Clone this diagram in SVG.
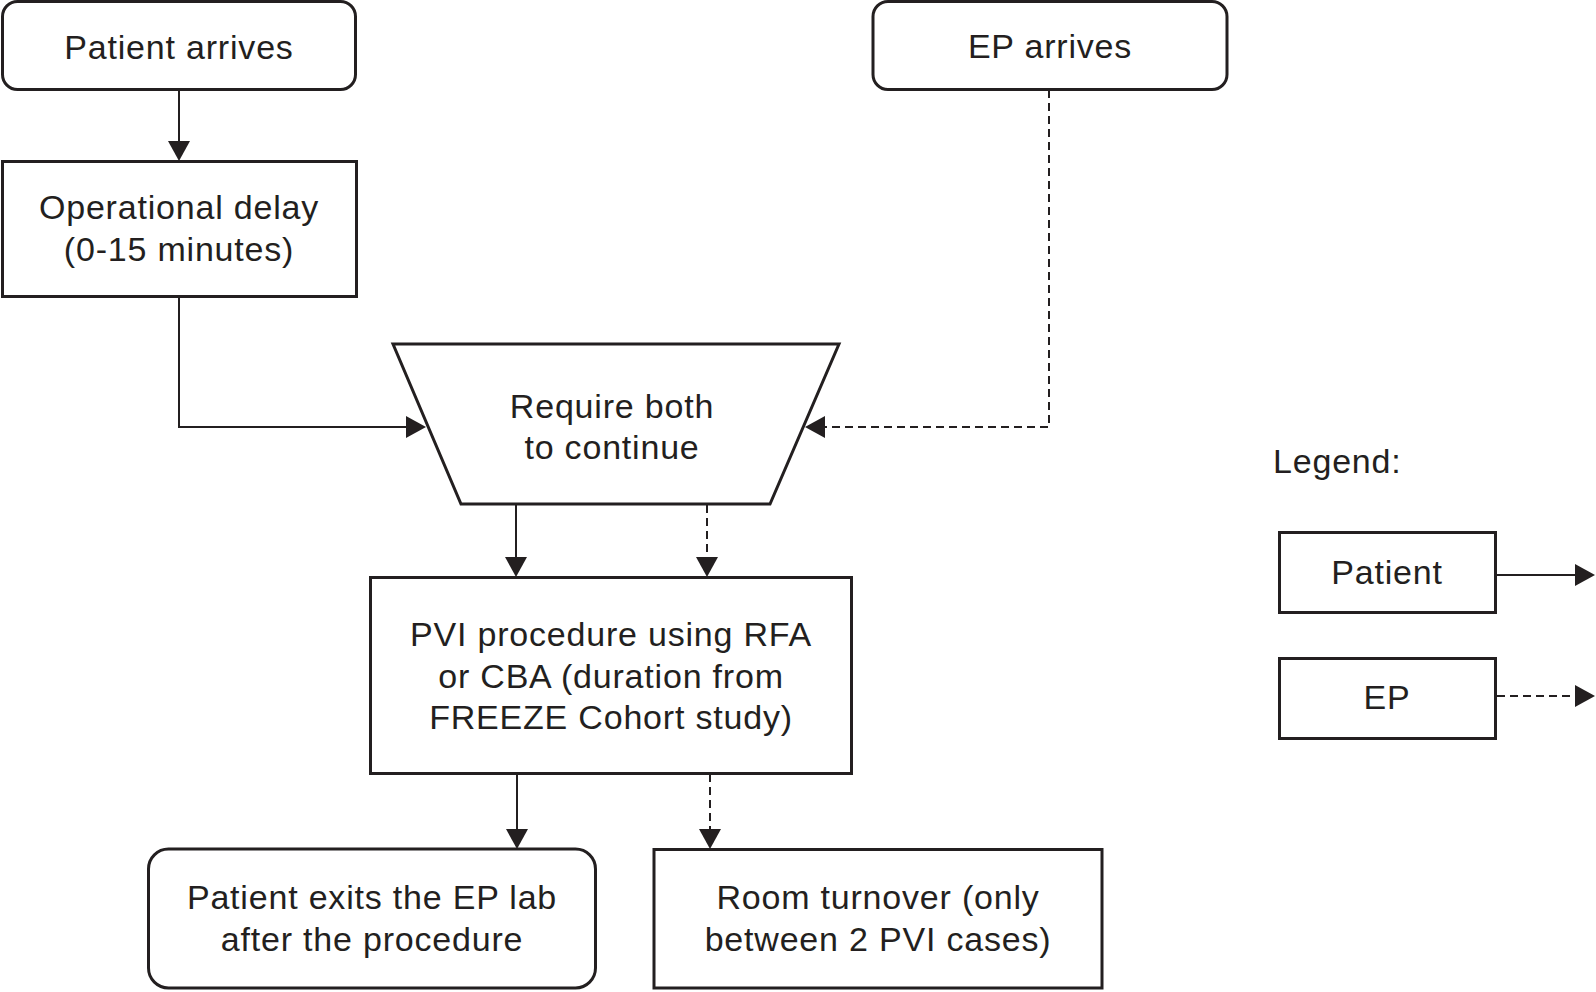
<svg xmlns="http://www.w3.org/2000/svg" width="1596" height="992" viewBox="0 0 1596 992">
<style>
  .box { fill: #ffffff; stroke: #231f20; stroke-width: 3; }
  .t { font-family: "Liberation Sans", Arial, sans-serif; font-size: 34px; fill: #231f20; text-anchor: middle; letter-spacing: 0.8px; }
  .c { fill: none; stroke: #231f20; stroke-width: 2; }
  .d { stroke-dasharray: 8 5; }
</style>
<defs>
  <marker id="ah" viewBox="0 0 20 22" refX="18" refY="11" markerWidth="20" markerHeight="22" markerUnits="userSpaceOnUse" orient="auto">
    <path d="M0,0 L20,11 L0,22 Z" fill="#231f20"/>
  </marker>
</defs>
<rect width="1596" height="992" fill="#ffffff"/>

<g id="connectors">
  <path class="c" d="M179,90 V159" marker-end="url(#ah)"/>
  <path class="c" d="M179,297 V427 H424" marker-end="url(#ah)"/>
  <path class="c d" d="M1049,90 V427 H807" marker-end="url(#ah)"/>
  <path class="c" d="M516,505 V575" marker-end="url(#ah)"/>
  <path class="c d" d="M707,505 V575" marker-end="url(#ah)"/>
  <path class="c" d="M517,774 V847" marker-end="url(#ah)"/>
  <path class="c d" d="M710,774 V847" marker-end="url(#ah)"/>
  <path class="c" d="M1497,575 H1593" marker-end="url(#ah)"/>
  <path class="c d" d="M1497,696 H1593" marker-end="url(#ah)"/>
</g>

<g id="patient-arrives">
  <rect class="box" x="2.5" y="1.5" width="353" height="88" rx="15"/>
  <text class="t" x="179" y="59">Patient arrives</text>
</g>

<g id="ep-arrives">
  <rect class="box" x="873" y="1.5" width="354" height="88" rx="15"/>
  <text class="t" x="1050" y="58">EP arrives</text>
</g>

<g id="operational-delay">
  <rect class="box" x="2.5" y="161.5" width="354" height="135"/>
  <text class="t" x="179" y="219">Operational delay</text>
  <text class="t" x="179" y="261">(0-15 minutes)</text>
</g>

<g id="require-both">
  <polygon class="box" points="393,344 839,344 770,504 461,504"/>
  <text class="t" x="612" y="418">Require both</text>
  <text class="t" x="612" y="459">to continue</text>
</g>

<g id="pvi-procedure">
  <rect class="box" x="370.5" y="577.5" width="481" height="196"/>
  <text class="t" x="611" y="646">PVI procedure using RFA</text>
  <text class="t" x="611" y="688">or CBA (duration from</text>
  <text class="t" x="611" y="729">FREEZE Cohort study)</text>
</g>

<g id="patient-exits">
  <rect class="box" x="148.5" y="849" width="447" height="139" rx="20"/>
  <text class="t" x="372" y="909">Patient exits the EP lab</text>
  <text class="t" x="372" y="951">after the procedure</text>
</g>

<g id="room-turnover">
  <rect class="box" x="654" y="849.5" width="448" height="138.5"/>
  <text class="t" x="878" y="909">Room turnover (only</text>
  <text class="t" x="878" y="951">between 2 PVI cases)</text>
</g>

<g id="legend">
  <text class="t" x="1273" y="473" style="text-anchor:start">Legend:</text>
  <g id="legend-patient">
    <rect class="box" x="1279.5" y="532.5" width="216" height="80"/>
    <text class="t" x="1387" y="584">Patient</text>
  </g>
  <g id="legend-ep">
    <rect class="box" x="1279.5" y="658.5" width="216" height="80"/>
    <text class="t" x="1387" y="709">EP</text>
  </g>
</g>
</svg>
